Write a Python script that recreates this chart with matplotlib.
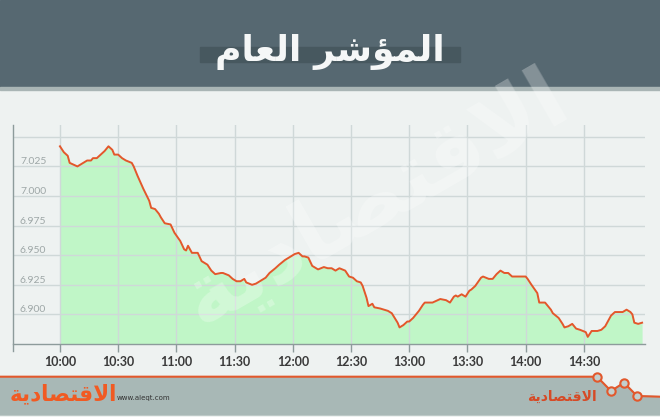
import matplotlib
matplotlib.use("Agg")
import matplotlib.pyplot as plt
from matplotlib.patches import Rectangle, Polygon

# ---------------- data ----------------
minutes_after_10 = [0, 2, 4, 5, 9, 11, 14, 16, 17, 19, 21, 23, 25, 27, 28, 30, 32, 34, 37, 38,
                    40, 43, 46, 47, 49, 51, 52, 54, 57, 59, 62, 64, 65, 66, 68, 71, 73, 76, 78, 80,
                    83, 84, 87, 89, 91, 93, 95, 96, 99, 101, 103, 106, 108, 111, 113, 116, 119, 121, 123, 125,
                    126, 128, 130, 131, 133, 136, 138, 140, 142, 144, 147, 149, 151, 153, 155, 156, 158, 159, 161, 162,
                    165, 167, 169, 171, 174, 175, 177, 179, 180, 182, 185, 187, 188, 191, 192, 196, 199, 201, 203, 204,
                    205, 207, 209, 211, 212, 214, 217, 218, 221, 223, 225, 227, 229, 231, 233, 235, 237, 240, 241, 243,
                    246, 247, 250, 252, 253, 254, 257, 259, 260, 262, 264, 266, 268, 271, 272, 274, 277, 279, 281, 284,
                    286, 289, 290, 292, 294, 295, 296, 298, 300]
index_values = [7.042, 7.037, 7.034, 7.028, 7.025, 7.027, 7.030, 7.030, 7.032, 7.032, 7.035, 7.038, 7.042, 7.039, 7.035, 7.035, 7.032, 7.030, 7.028, 7.025,
                7.017, 7.006, 6.996, 6.990, 6.989, 6.985, 6.982, 6.977, 6.976, 6.969, 6.962, 6.955, 6.954, 6.958, 6.952, 6.952, 6.945, 6.942, 6.937, 6.934,
                6.935, 6.935, 6.933, 6.930, 6.928, 6.928, 6.930, 6.927, 6.925, 6.926, 6.928, 6.931, 6.935, 6.939, 6.942, 6.946, 6.949, 6.951, 6.952, 6.949,
                6.949, 6.948, 6.941, 6.940, 6.938, 6.940, 6.939, 6.939, 6.937, 6.939, 6.937, 6.932, 6.931, 6.928, 6.927, 6.924, 6.914, 6.907, 6.909, 6.906,
                6.905, 6.904, 6.903, 6.901, 6.893, 6.889, 6.891, 6.894, 6.894, 6.897, 6.903, 6.908, 6.910, 6.910, 6.910, 6.913, 6.912, 6.910, 6.915, 6.916,
                6.915, 6.917, 6.915, 6.920, 6.921, 6.924, 6.931, 6.932, 6.930, 6.930, 6.934, 6.937, 6.935, 6.935, 6.932, 6.932, 6.932, 6.932, 6.930, 6.925,
                6.918, 6.910, 6.910, 6.906, 6.904, 6.901, 6.897, 6.892, 6.889, 6.890, 6.892, 6.888, 6.887, 6.885, 6.881, 6.886, 6.886, 6.887, 6.890, 6.899,
                6.902, 6.902, 6.902, 6.904, 6.902, 6.900, 6.893, 6.892, 6.893]
x_tick_minutes = [0, 30, 60, 90, 120, 150, 180, 210, 240, 270]
x_tick_labels = ["10:00", "10:30", "11:00", "11:30", "12:00", "12:30", "13:00", "13:30", "14:00", "14:30"]
y_ticks = [6.900, 6.925, 6.950, 6.975, 7.000, 7.025, 7.050]
y_tick_labels = ["6.900", "6.925", "6.950", "6.975", "7.000", "7.025"]

# Arabic text in visual order with presentation forms (no shaping engine in matplotlib)
title_text = "\uFEE1\uFE8E\uFECC\uFEDF\uFE8D \uFEAE\uFEB7\uFE86\uFEE4\uFEDF\uFE8D"   # المؤشر العام
logo_text = "\uFE94\uFEF3\uFEA9\uFE8E\uFEBC\uFE98\uFED7\uFEFB\uFE8D"                  # الاقتصادية

# ---------------- figure ----------------
fig = plt.figure(figsize=(6.6, 4.17), dpi=100)
bg = fig.add_axes([0, 0, 1, 1])
bg.set_xlim(0, 660)
bg.set_ylim(417, 0)
bg.axis("off")
bg.add_patch(Rectangle((0, 0), 660, 417, color="#eef2f1", zorder=0))
bg.add_patch(Rectangle((0, 0), 660, 87, color="#566871", zorder=1))
bg.add_patch(Rectangle((0, 87), 660, 3, color="#a9b5b5", zorder=1))
bg.add_patch(Rectangle((200, 47), 260, 15, color="#47585f", zorder=2))
bg.text(330, 52, title_text, ha="center", va="center", fontsize=26, fontweight="bold",
        color="#f5f7f7", family=["DejaVu Sans"], zorder=3)

# footer
fx = [0, 597, 611, 624, 637, 660]
fy = [376.7, 376.7, 391, 382.7, 396, 396.7]
bg.add_patch(Polygon(list(zip(fx, fy)) + [(660, 415), (0, 415)], closed=True,
                     color="#a8b8b6", zorder=1))
bg.plot(fx, fy, color="#e2582c", lw=1.5, zorder=2)
bg.plot(fx[1:5], fy[1:5], "o", ms=6, mfc="#c3cfcd", mec="#e2582c", mew=1.5, zorder=3)
bg.text(63, 394, logo_text, ha="center", va="center", fontsize=15.5, fontweight="bold",
        color="#f15a22", family=["DejaVu Sans"], zorder=3)
bg.text(117, 398, "www.aleqt.com", ha="left", va="center", fontsize=5, color="#333333", zorder=3)
bg.text(562, 397, logo_text, ha="center", va="center", fontsize=10, fontweight="bold",
        color="#d64a26", family=["DejaVu Sans"], zorder=3)

# ---------------- main chart ----------------
ax = fig.add_axes([13 / 660, (417 - 344) / 417, 632 / 660, 219 / 417])
ax.patch.set_alpha(0)
ax.set_xlim(-24.2, 301.5)
ax.set_ylim(6.875, 7.060)

ax.fill_between(minutes_after_10, index_values, 6.875, color="#c0f6c7", lw=0, zorder=1)
ax.plot(minutes_after_10, index_values, color="#e3572b", lw=1.4, zorder=3)

# watermark
ax.text(375, 200, logo_text, transform=bg.transData, ha="center", va="center",
        fontsize=62, fontweight="bold", rotation=30, color="white", alpha=0.28,
        family=["DejaVu Sans"], zorder=2, clip_on=False)

ax.set_axisbelow("line")
ax.set_xticks(x_tick_minutes)
ax.set_xticklabels(x_tick_labels)
ax.set_yticks(y_ticks)
ax.set_yticklabels([])
ax.grid(True, color="#cfd8d8", lw=1)
ax.tick_params(axis="y", length=0)
ax.tick_params(axis="x", direction="out", length=6, width=1, color="#8d9b9b", pad=2.5,
               labelsize=9, labelcolor="#3a3a3a")
for lab in ax.get_xticklabels():
    lab.set_fontweight("bold")
    lab.set_family("Lato")

for s in ["top", "right", "left"]:
    ax.spines[s].set_visible(False)
ax.spines["bottom"].set_color("#8d9b9b")
ax.spines["bottom"].set_linewidth(1)
ax.plot([0, 0], [-0.03, 1.0], transform=ax.transAxes, color="#8d9b9b", lw=1,
        clip_on=False, zorder=4)

px = 0.185 / 219  # value per pixel
for v, lab in zip(y_ticks, y_tick_labels):
    ax.text(7 / 632, v + 4.5 * px, lab, transform=ax.get_yaxis_transform(),
            ha="left", va="center", fontsize=7.5, color="#9ea7a7", family="Lato")

fig.savefig("out.png", dpi=100)
